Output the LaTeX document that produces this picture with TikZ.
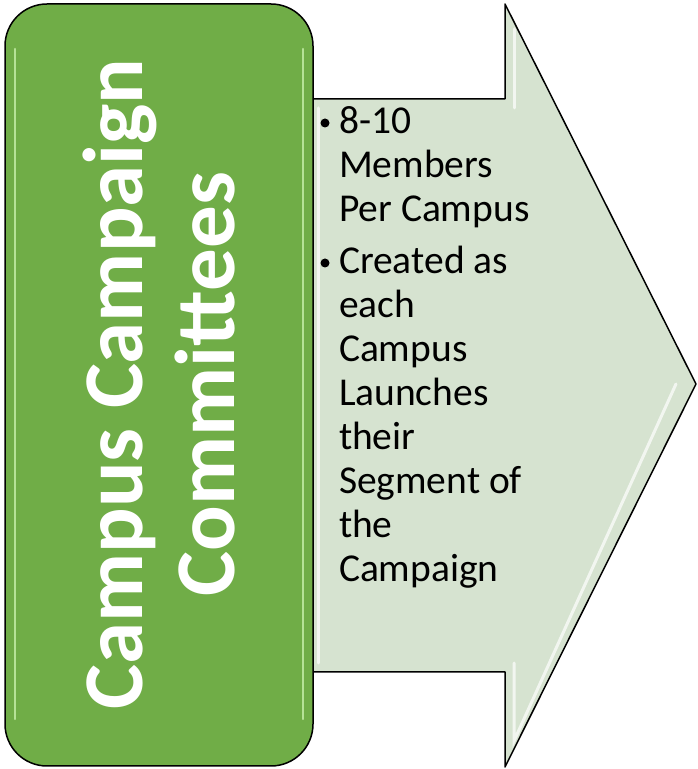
\documentclass[tikz,border=0pt]{standalone}
\usepackage{fontspec}
\setmainfont{Carlito}
\begin{document}
\begin{tikzpicture}[x=1pt,y=1pt]
\definecolor{boxColor}{RGB}{112,173,71}
\definecolor{arrowColor}{RGB}{214,227,208}
\definecolor{lineColor}{RGB}{0,0,0}
\definecolor{glintColor}{RGB}{200,240,172}
\tikzset{
  outline/.style={draw=lineColor,line width=1.5pt,line join=round},
  glint/.style={draw=glintColor,line width=2.5pt,line cap=round,opacity=0.8},
  shine/.style={draw=white,line width=3pt,line cap=round,opacity=0.7},
  itemtext/.style={anchor=base west,align=left,inner sep=0pt,outer sep=0pt,font=\fontsize{39.5}{44}\selectfont},
  bulletdot/.style={circle,fill=black,inner sep=0pt,minimum size=9pt},
  titletext/.style={rotate=90,align=center,text=white,inner sep=0pt,font=\bfseries\fontsize{85}{92}\selectfont}
}
\path[use as bounding box] (0,0) rectangle (697,769);

% arrow behind the box
\path[outline,fill=arrowColor] (300,97) -- (505,97) -- (505,2) -- (696,385) --
	(505,765) -- (505,670) -- (300,670) -- cycle;
\path[shine] (318,106) -- (318,661);
\path[shine] (514,661) -- (514,740);
\path[shine] (514,106) -- (514,28) -- (676,385);

% green box
\path[outline,fill=boxColor,rounded corners=42pt] (5,3) rectangle (313,765);
\path[glint] (15,50) -- (15,720);
\path[glint] (303,50) -- (303,720);

% texts (base anchor sits on the last line)
\node[titletext] (title) at (159,385) {Campus Campaign\\Committees};

\node[bulletdot] (dotA) at (325,646) {};
\node[itemtext] (itemA) at (339,547) {8-10\\Members\\Per Campus};

\node[bulletdot] (dotB) at (325,506) {};
\node[itemtext] (itemB) at (339,187) {Created as\\each\\Campus\\Launches\\their\\Segment of\\the\\Campaign};
\end{tikzpicture}
\end{document}
